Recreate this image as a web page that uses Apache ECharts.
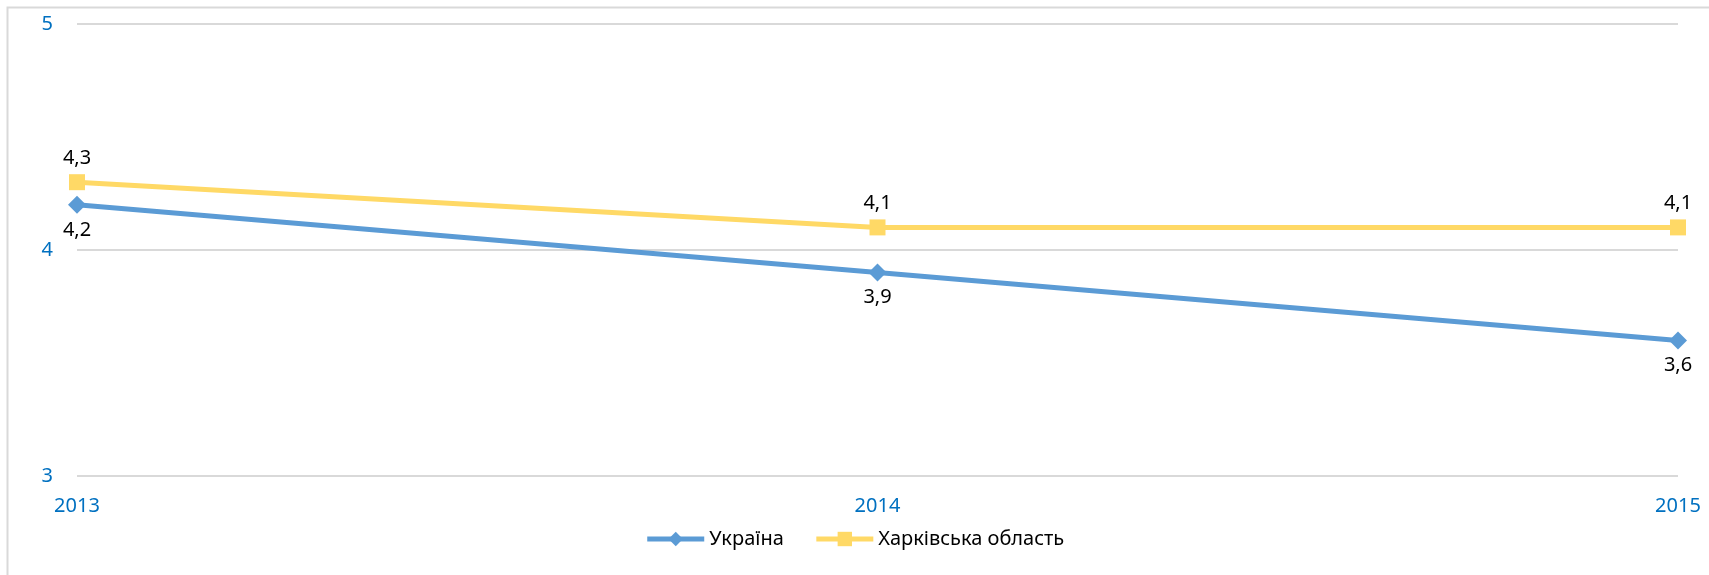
<!DOCTYPE html>
<html>
<head>
<meta charset="utf-8">
<script src="https://cdn.jsdelivr.net/npm/echarts@6/dist/echarts.min.js"></script>
<style>
html,body{margin:0;padding:0;background:#fff;}
#chart{width:1709px;height:575px;}
</style>
</head>
<body>
<div id="chart"></div>
<script>
const categories = ['2013', '2014', '2015'];
const ukraine = [4.2, 3.9, 3.6];
const kharkiv = [4.3, 4.1, 4.1];
const seriesNames = ['Україна', 'Харківська область'];
const yTicks = [3, 4, 5];

const FONT = '"Noto Sans", "Open Sans", sans-serif';
const fmt = p => String(p.value).replace('.', ',');

const chart = echarts.init(document.getElementById('chart'));
chart.setOption({
  backgroundColor: '#ffffff',
  animation: false,
  textStyle: { fontFamily: FONT },
  graphic: [{
    type: 'rect',
    shape: { x: 7.5, y: 7.5, width: 1720, height: 600 },
    style: { fill: 'none', stroke: '#d9d9d9', lineWidth: 2 },
    silent: true
  }],
  grid: { left: 77, right: 31, top: 24, bottom: 99 },
  legend: {
    bottom: 21,
    left: 'center',
    itemWidth: 57,
    itemHeight: 18,
    itemGap: 30,
    lineStyle: { width: 5 },
    textStyle: { color: '#000', fontSize: 20, fontFamily: FONT },
    data: seriesNames
  },
  xAxis: {
    type: 'category',
    data: categories,
    boundaryGap: false,
    axisLine: { show: false },
    axisTick: { show: false },
    axisLabel: { color: '#0070C0', fontSize: 20, margin: 20, fontFamily: FONT }
  },
  yAxis: {
    type: 'value',
    min: yTicks[0],
    max: yTicks[yTicks.length - 1],
    interval: 1,
    axisLine: { show: false },
    axisTick: { show: false },
    axisLabel: { color: '#0070C0', fontSize: 20, margin: 24, fontFamily: FONT },
    splitLine: { lineStyle: { color: '#d9d9d9', width: 2 } }
  },
  series: [
    {
      name: seriesNames[0],
      type: 'line',
      data: ukraine,
      symbol: 'diamond',
      symbolSize: 18,
      color: '#5B9BD5',
      lineStyle: { width: 5, color: '#5B9BD5' },
      itemStyle: { color: '#5B9BD5' },
      label: { show: true, position: 'bottom', distance: 6, color: '#000', fontSize: 20, formatter: fmt, fontFamily: FONT }
    },
    {
      name: seriesNames[1],
      type: 'line',
      data: kharkiv,
      symbol: 'rect',
      symbolSize: 16,
      color: '#FFD966',
      lineStyle: { width: 5, color: '#FFD966' },
      itemStyle: { color: '#FFD966' },
      label: { show: true, position: 'top', distance: 6, color: '#000', fontSize: 20, formatter: fmt, fontFamily: FONT }
    }
  ]
});
</script>
</body>
</html>
